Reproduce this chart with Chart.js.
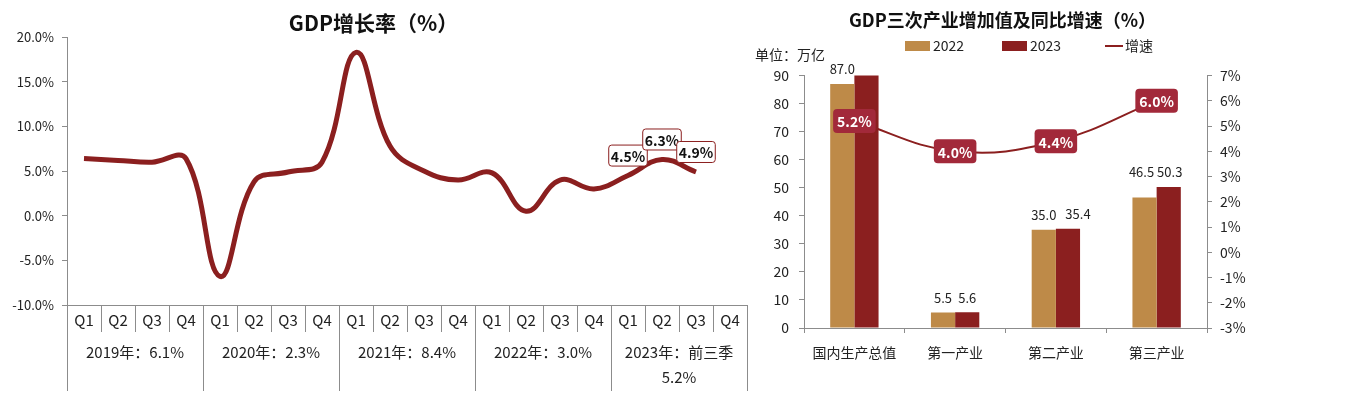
<!DOCTYPE html>
<html>
<head>
<meta charset="utf-8">
<script src="https://cdn.jsdelivr.net/npm/chart.js@4/dist/chart.umd.min.js"></script>
<style>
body{margin:0;background:#fff;width:1359px;height:397px;overflow:hidden;position:relative}
#c1{position:absolute;left:0;top:0}
#c2{position:absolute;left:750px;top:0}
</style>
</head>
<body>
<canvas id="c1" width="760" height="397"></canvas>
<canvas id="c2" width="505" height="397"></canvas>
<script>
// ---- left chart data ----
var quarters=['Q1','Q2','Q3','Q4','Q1','Q2','Q3','Q4','Q1','Q2','Q3','Q4','Q1','Q2','Q3','Q4','Q1','Q2','Q3','Q4']
var growth=[6.4,6.2,6.0,6.4,-6.8,3.8,4.9,6.0,18.3,7.8,5.0,4.0,4.8,0.5,4.0,3.0,4.5,6.3,4.9,null]
var yearLabels=[['2019年：6.1%'],['2020年：2.3%'],['2021年：8.4%'],['2022年：3.0%'],['2023年：前三季','5.2%']]
var labelledPoints=[16,17,18]

// ---- right chart data ----
var industries=['国内生产总值','第一产业','第二产业','第三产业']
var val2022=[87.0,5.5,35.0,46.5]
var val2023=[91.3,5.6,35.4,50.3]
var speed=[5.2,4.0,4.4,6.0]

var FONT='"Microsoft YaHei","Noto Sans CJK SC",sans-serif'
var RED='#8B1F1F'
var TAN='#BE8A48'
var AXIS='#8c8c8c'

function roundRect(ctx,x,y,w,h,r){
	ctx.beginPath()
	ctx.moveTo(x+r,y)
	ctx.lineTo(x+w-r,y);ctx.quadraticCurveTo(x+w,y,x+w,y+r)
	ctx.lineTo(x+w,y+h-r);ctx.quadraticCurveTo(x+w,y+h,x+w-r,y+h)
	ctx.lineTo(x+r,y+h);ctx.quadraticCurveTo(x,y+h,x,y+h-r)
	ctx.lineTo(x,y+r);ctx.quadraticCurveTo(x,y,x+r,y)
	ctx.closePath()
}

// group labels + long separators under the quarter axis
var groupAxis={
	id:'groupAxis',
	afterDraw:function(chart){
		var ctx=chart.ctx, xs=chart.scales.x, area=chart.chartArea
		var step=(xs.right-xs.left)/quarters.length
		ctx.save()
		ctx.strokeStyle=AXIS;ctx.lineWidth=1
		for(var g=0;g<=yearLabels.length;g++){
			var x=Math.round(xs.left+g*4*step)+0.5
			ctx.beginPath();ctx.moveTo(x,area.bottom);ctx.lineTo(x,area.bottom+86);ctx.stroke()
		}
		ctx.fillStyle='#222';ctx.font='15px '+FONT;ctx.textAlign='center';ctx.textBaseline='middle'
		yearLabels.forEach(function(lines,g){
			var cx=xs.left+(g*4+2)*step
			lines.forEach(function(t,i){ctx.fillText(t,cx,area.bottom+47+i*25)})
		})
		// boxed labels
		var meta=chart.getDatasetMeta(0)
		ctx.font='bold 14px '+FONT
		labelledPoints.forEach(function(i){
			var p=meta.data[i], t=growth[i].toFixed(1)+'%'
			var w=ctx.measureText(t).width+4, h=21
			var cx=p.x, cy=p.y-20
			roundRect(ctx,cx-w/2,cy-h/2,w,h,3)
			ctx.fillStyle='#fff';ctx.fill()
			ctx.strokeStyle=RED;ctx.lineWidth=1;ctx.stroke()
			ctx.fillStyle='#111';ctx.fillText(t,cx,cy+1)
		})
		ctx.restore()
	}
}

new Chart(document.getElementById('c1'),{
	type:'line',
	data:{labels:quarters,datasets:[{data:growth,borderColor:RED,borderWidth:5,pointRadius:0,tension:0.4,fill:false}]},
	options:{
		responsive:false,animation:false,
		layout:{padding:{left:0,right:13,top:0,bottom:0}},
		plugins:{
			legend:{display:false},tooltip:{enabled:false},
			title:{display:true,text:'GDP增长率（%）',color:'#111',font:{family:FONT,size:21,weight:'bold'},padding:{top:10,bottom:2}}
		},
		scales:{
			x:{
				offset:true,
				grid:{display:true,offset:true,drawOnChartArea:false,tickLength:27,color:AXIS},
				border:{color:AXIS},
				ticks:{color:'#222',font:{family:FONT,size:15},padding:-21,maxRotation:0,autoSkip:false},
				afterFit:function(s){s.height=92}
			},
			y:{
				min:-10,max:20,
				grid:{display:true,drawOnChartArea:false,tickLength:5,color:AXIS},
				border:{color:AXIS},
				ticks:{stepSize:5,color:'#222',font:{family:FONT,size:13},padding:8,callback:function(v){return v.toFixed(1)+'%'}},
				afterFit:function(s){s.width=67}
			}
		}
	},
	plugins:[groupAxis]
})

// right chart: legend, unit, value labels, speed badges
var rightDecor={
	id:'rightDecor',
	afterDraw:function(chart){
		var ctx=chart.ctx, area=chart.chartArea, ys=chart.scales.y
		ctx.save()
		ctx.font='14px '+FONT;ctx.fillStyle='#222';ctx.textBaseline='middle';ctx.textAlign='left'
		ctx.fillText('单位：万亿',5,55)
		// legend
		var lx=155, ly=46
		ctx.fillStyle=TAN;ctx.fillRect(lx,ly-5,25,10)
		ctx.fillStyle='#222';ctx.fillText('2022',lx+28,ly)
		ctx.fillStyle=RED;ctx.fillRect(lx+97,ly-5,25,10)
		ctx.fillStyle='#222';ctx.fillText('2023',lx+125,ly)
		ctx.strokeStyle=RED;ctx.lineWidth=2
		ctx.beginPath();ctx.moveTo(lx+200,ly);ctx.lineTo(lx+218,ly);ctx.stroke()
		ctx.fillText('增速',lx+220,ly)
		// bar values (35.4 nudged right, 46.5 lifted level with 50.3 as in the source)
		ctx.textAlign='center';ctx.textBaseline='bottom';ctx.font='13px '+FONT
		var m0=chart.getDatasetMeta(0).data, m1=chart.getDatasetMeta(1).data
		m0.forEach(function(b,i){
			var y=b.y, x=b.x
			if(i==3){y=Math.min(y,m1[i].y);x-=3}
			ctx.fillText(val2022[i].toFixed(1),x,y-8)
		})
		m1.forEach(function(b,i){
			if(val2023[i]>ys.max) return
			ctx.fillText(val2023[i].toFixed(1),b.x+(i==2?10:i==3?1:0),b.y-8)
		})
		// speed badges
		ctx.font='bold 14px '+FONT;ctx.textBaseline='middle'
		chart.getDatasetMeta(2).data.forEach(function(p,i){
			var t=speed[i].toFixed(1)+'%', w=ctx.measureText(t).width+8, h=24
			roundRect(ctx,p.x-w/2,p.y-h/2,w,h,4)
			ctx.fillStyle='#A2293A';ctx.fill()
			ctx.fillStyle='#fff';ctx.fillText(t,p.x,p.y+1)
		})
		ctx.restore()
	}
}

new Chart(document.getElementById('c2'),{
	type:'bar',
	data:{labels:industries,datasets:[
		{label:'2022',data:val2022,backgroundColor:TAN,categoryPercentage:0.48,barPercentage:1,yAxisID:'y',order:2},
		{label:'2023',data:val2023,backgroundColor:RED,categoryPercentage:0.48,barPercentage:1,yAxisID:'y',order:2},
		{type:'line',label:'增速',data:speed,borderColor:RED,borderWidth:2,pointRadius:0,tension:0.4,yAxisID:'y1',order:1}
	]},
	options:{
		responsive:false,animation:false,
		layout:{padding:{left:0,right:0,top:0,bottom:0}},
		plugins:{
			legend:{display:false},tooltip:{enabled:false},
			title:{display:true,text:'GDP三次产业增加值及同比增速（%）',color:'#111',font:{family:FONT,size:18,weight:'bold'},padding:{top:9,bottom:45}}
		},
		scales:{
			x:{
				grid:{display:true,offset:true,drawOnChartArea:false,tickLength:5,color:AXIS},
				border:{color:AXIS},
				ticks:{color:'#222',font:{family:FONT,size:14},padding:11,maxRotation:0},
				afterFit:function(s){s.height=69}
			},
			y:{
				position:'left',min:0,max:90,
				grid:{display:true,drawOnChartArea:false,tickLength:5,color:AXIS},
				border:{color:AXIS},
				ticks:{stepSize:10,color:'#222',font:{family:FONT,size:14},padding:10},
				afterFit:function(s){s.width=54}
			},
			y1:{
				position:'right',min:-3,max:7,
				grid:{display:true,drawOnChartArea:false,tickLength:5,color:AXIS},
				border:{color:AXIS},
				ticks:{stepSize:1,color:'#222',font:{family:FONT,size:14},padding:8,callback:function(v){return v+'%'}},
				afterFit:function(s){s.width=48}
			}
		}
	},
	plugins:[rightDecor]
})
</script>
</body>
</html>
